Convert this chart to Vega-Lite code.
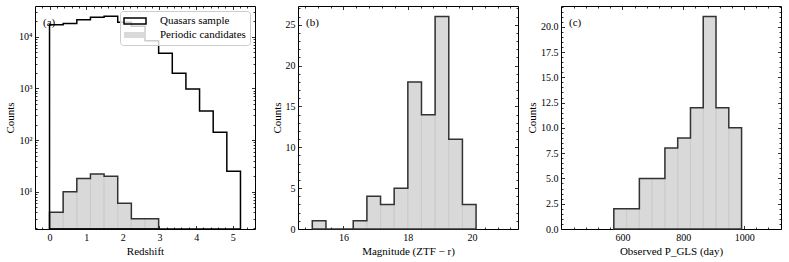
{
  "$schema": "https://vega.github.io/schema/vega-lite/v6.json",
  "background": "white",
  "padding": {"left": 4, "top": 5, "right": 0, "bottom": 0},
  "bounds": "flush",
  "spacing": 43,
  "resolve": {"scale": {"fill": "independent", "stroke": "independent"}, "legend": {"fill": "independent", "stroke": "independent"}},
  "datasets": {
    "redshift": [
      {"start": 0, "end": 0.3721, "quasars": 17100, "candidates": 4},
      {"start": 0.3721, "end": 0.7443, "quasars": 18100, "candidates": 10},
      {"start": 0.7443, "end": 1.1164, "quasars": 21300, "candidates": 18},
      {"start": 1.1164, "end": 1.4886, "quasars": 23700, "candidates": 22},
      {"start": 1.4886, "end": 1.8607, "quasars": 24800, "candidates": 20},
      {"start": 1.8607, "end": 2.2329, "quasars": 19000, "candidates": 6},
      {"start": 2.2329, "end": 2.605, "quasars": 16000, "candidates": 3},
      {"start": 2.605, "end": 2.9771, "quasars": 8400, "candidates": 3},
      {"start": 2.9771, "end": 3.3493, "quasars": 4770, "candidates": 0},
      {"start": 3.3493, "end": 3.7214, "quasars": 1960, "candidates": 0},
      {"start": 3.7214, "end": 4.0936, "quasars": 970, "candidates": 0},
      {"start": 4.0936, "end": 4.4657, "quasars": 364, "candidates": 0},
      {"start": 4.4657, "end": 4.8379, "quasars": 141, "candidates": 0},
      {"start": 4.8379, "end": 5.21, "quasars": 25, "candidates": 0}
    ],
    "magnitude": [
      {"start": 15.03, "end": 15.455, "count": 1},
      {"start": 15.455, "end": 15.88, "count": 0},
      {"start": 15.88, "end": 16.305, "count": 0},
      {"start": 16.305, "end": 16.73, "count": 1},
      {"start": 16.73, "end": 17.155, "count": 4},
      {"start": 17.155, "end": 17.58, "count": 3},
      {"start": 17.58, "end": 18.005, "count": 5},
      {"start": 18.005, "end": 18.43, "count": 18},
      {"start": 18.43, "end": 18.855, "count": 14},
      {"start": 18.855, "end": 19.28, "count": 26},
      {"start": 19.28, "end": 19.705, "count": 11},
      {"start": 19.705, "end": 20.13, "count": 3}
    ],
    "period": [
      {"start": 571.8, "end": 613.8, "count": 2},
      {"start": 613.8, "end": 655.8, "count": 2},
      {"start": 655.8, "end": 697.7, "count": 5},
      {"start": 697.7, "end": 739.7, "count": 5},
      {"start": 739.7, "end": 781.7, "count": 8},
      {"start": 781.7, "end": 823.7, "count": 9},
      {"start": 823.7, "end": 865.7, "count": 12},
      {"start": 865.7, "end": 907.6, "count": 21},
      {"start": 907.6, "end": 949.6, "count": 12},
      {"start": 949.6, "end": 991.6, "count": 10}
    ]
  },
  "hconcat": [
    {
      "width": 220,
      "height": 223,
      "title": {"text": "(a)", "anchor": "start", "frame": "group", "offset": -12, "dx": 8, "dy": 10, "baseline": "top"},
      "data": {"name": "redshift"},
      "resolve": {"axis": {"x": "independent", "y": "independent"}},
      "layer": [
        {
          "transform": [{"filter": "datum.candidates > 0"}],
          "mark": {"type": "bar", "orient": "vertical"},
          "encoding": {
            "x": {"field": "start", "type": "quantitative", "scale": {"domain": [-0.26, 5.47], "nice": false, "zero": false},
              "axis": {"orient": "bottom", "values": [0, 1, 2, 3, 4, 5], "title": "Redshift", "tickSize": 3.5, "offset": -3.5}},
            "x2": {"field": "end"},
            "y": {"field": "candidates", "type": "quantitative", "scale": {"type": "log", "domain": [1.9, 39300], "nice": false},
              "axis": {"orient": "left", "values": [10, 100, 1000, 10000], "labelExpr": "datum.value == 10 ? '10¹' : datum.value == 100 ? '10²' : datum.value == 1000 ? '10³' : '10⁴'", "title": "Counts", "tickSize": 3.5, "offset": -3.5, "minExtent": 0}},
            "y2": {"datum": 1.9},
            "fill": {"datum": "Periodic candidates", "type": "nominal",
              "scale": {"domain": ["Quasars sample", "Periodic candidates"], "range": ["transparent", "#d9d9d9"]},
              "legend": {"title": null, "symbolType": "M-2.2,-0.6H2.2V0.6H-2.2Z"}}
          }
        },
        {
          "transform": [{"filter": "datum.candidates > 0"}],
          "mark": {"type": "bar", "orient": "vertical", "fillOpacity": 0, "stroke": "#c6c6c6", "strokeWidth": 0.6},
          "encoding": {
            "x": {"field": "start", "type": "quantitative", "scale": {"domain": [-0.26, 5.47], "nice": false, "zero": false},
              "axis": {"orient": "top", "values": [-0.2, 0.2, 0.4, 0.6, 0.8, 1.2, 1.4, 1.6, 1.8, 2.2, 2.4, 2.6, 2.8, 3.2, 3.4, 3.6, 3.8, 4.2, 4.4, 4.6, 4.8, 5.2, 5.4], "labels": false, "title": null, "tickSize": 2, "offset": -2}},
            "x2": {"field": "start"},
            "y": {"field": "candidates", "type": "quantitative", "scale": {"type": "log", "domain": [1.9, 39300], "nice": false},
              "axis": {"orient": "right", "values": [2, 3, 4, 5, 6, 7, 8, 9, 20, 30, 40, 50, 60, 70, 80, 90, 200, 300, 400, 500, 600, 700, 800, 900, 2000, 3000, 4000, 5000, 6000, 7000, 8000, 9000, 20000, 30000], "labels": false, "title": null, "tickSize": 2, "offset": -2, "minExtent": 0}},
            "y2": {"datum": 1.9}
          }
        },
        {
          "transform": [{"filter": "datum.candidates > 0"}, {"fold": ["start", "end"], "as": ["edge", "pos"]}],
          "mark": {"type": "area", "fill": "transparent", "stroke": "#333333", "strokeWidth": 1.5, "strokeJoin": "miter"},
          "encoding": {
            "x": {"field": "pos", "type": "quantitative", "scale": {"domain": [-0.26, 5.47], "nice": false, "zero": false},
              "axis": {"orient": "top", "values": [0, 1, 2, 3, 4, 5], "labels": false, "title": null, "tickSize": 3.5, "offset": -3.5}},
            "y": {"field": "candidates", "type": "quantitative", "stack": null, "scale": {"type": "log", "domain": [1.9, 39300], "nice": false},
              "axis": {"orient": "right", "values": [10, 100, 1000, 10000], "labels": false, "title": null, "tickSize": 3.5, "offset": -3.5, "minExtent": 0}}
          }
        },
        {
          "transform": [{"fold": ["start", "end"], "as": ["edge", "pos"]}],
          "mark": {"type": "area", "fill": "transparent", "strokeWidth": 1.5, "strokeJoin": "miter"},
          "encoding": {
            "x": {"field": "pos", "type": "quantitative", "scale": {"domain": [-0.26, 5.47], "nice": false, "zero": false},
              "axis": {"orient": "bottom", "values": [-0.2, 0.2, 0.4, 0.6, 0.8, 1.2, 1.4, 1.6, 1.8, 2.2, 2.4, 2.6, 2.8, 3.2, 3.4, 3.6, 3.8, 4.2, 4.4, 4.6, 4.8, 5.2, 5.4], "labels": false, "title": null, "tickSize": 2, "offset": -2}},
            "y": {"field": "quasars", "type": "quantitative", "stack": null, "scale": {"type": "log", "domain": [1.9, 39300], "nice": false},
              "axis": {"orient": "left", "values": [2, 3, 4, 5, 6, 7, 8, 9, 20, 30, 40, 50, 60, 70, 80, 90, 200, 300, 400, 500, 600, 700, 800, 900, 2000, 3000, 4000, 5000, 6000, 7000, 8000, 9000, 20000, 30000], "labels": false, "title": null, "tickSize": 2, "offset": -2, "minExtent": 0}},
            "stroke": {"datum": "Quasars sample", "type": "nominal",
              "scale": {"domain": ["Quasars sample", "Periodic candidates"], "range": ["black", "transparent"]},
              "legend": {"title": null, "symbolType": "M-2.2,-0.6H2.2V0.6H-2.2Z"}}
          }
        }
      ]
    },
    {
      "width": 220,
      "height": 223,
      "title": {"text": "(b)", "anchor": "start", "frame": "group", "offset": -12, "dx": 8, "dy": 10, "baseline": "top"},
      "data": {"name": "magnitude"},
      "resolve": {"axis": {"x": "independent", "y": "independent"}},
      "layer": [
        {
          "transform": [{"filter": "datum.count > 0"}],
          "mark": {"type": "bar", "orient": "vertical", "fill": "#d9d9d9"},
          "encoding": {
            "x": {"field": "start", "type": "quantitative", "scale": {"domain": [14.74, 21.28], "nice": false, "zero": false},
              "axis": {"orient": "bottom", "values": [16, 18, 20], "title": "Magnitude (ZTF − r)", "tickSize": 3.5, "offset": -3.5}},
            "x2": {"field": "end"},
            "y": {"field": "count", "type": "quantitative", "scale": {"domain": [0, 27.3], "nice": false, "zero": false},
              "axis": {"orient": "left", "values": [0, 5, 10, 15, 20, 25], "title": "Counts", "tickSize": 3.5, "offset": -3.5, "minExtent": 0}}
          }
        },
        {
          "transform": [{"filter": "datum.count > 0"}],
          "mark": {"type": "bar", "orient": "vertical", "fillOpacity": 0, "stroke": "#c6c6c6", "strokeWidth": 0.6},
          "encoding": {
            "x": {"field": "start", "type": "quantitative", "scale": {"domain": [14.74, 21.28], "nice": false, "zero": false},
              "axis": {"orient": "top", "values": [14.8, 15.2, 15.6, 16.4, 16.8, 17.2, 17.6, 18.4, 18.8, 19.2, 19.6, 20.4, 20.8, 21.2], "labels": false, "title": null, "tickSize": 2, "offset": -2}},
            "x2": {"field": "start"},
            "y": {"field": "count", "type": "quantitative", "scale": {"domain": [0, 27.3], "nice": false, "zero": false},
              "axis": {"orient": "right", "values": [1, 2, 3, 4, 6, 7, 8, 9, 11, 12, 13, 14, 16, 17, 18, 19, 21, 22, 23, 24, 26, 27], "labels": false, "title": null, "tickSize": 2, "offset": -2, "minExtent": 0}}
          }
        },
        {
          "transform": [{"fold": ["start", "end"], "as": ["edge", "pos"]}],
          "mark": {"type": "area", "fill": "transparent", "stroke": "#333333", "strokeWidth": 1.5, "strokeJoin": "miter"},
          "encoding": {
            "x": {"field": "pos", "type": "quantitative", "scale": {"domain": [14.74, 21.28], "nice": false, "zero": false},
              "axis": {"orient": "top", "values": [16, 18, 20], "labels": false, "title": null, "tickSize": 3.5, "offset": -3.5}},
            "y": {"field": "count", "type": "quantitative", "stack": null, "scale": {"domain": [0, 27.3], "nice": false, "zero": false},
              "axis": {"orient": "right", "values": [0, 5, 10, 15, 20, 25], "labels": false, "title": null, "tickSize": 3.5, "offset": -3.5, "minExtent": 0}}
          }
        },
        {
          "mark": {"type": "point", "opacity": 0},
          "encoding": {
            "x": {"field": "start", "type": "quantitative", "scale": {"domain": [14.74, 21.28], "nice": false, "zero": false},
              "axis": {"orient": "bottom", "values": [14.8, 15.2, 15.6, 16.4, 16.8, 17.2, 17.6, 18.4, 18.8, 19.2, 19.6, 20.4, 20.8, 21.2], "labels": false, "title": null, "tickSize": 2, "offset": -2}},
            "y": {"field": "count", "type": "quantitative", "scale": {"domain": [0, 27.3], "nice": false, "zero": false},
              "axis": {"orient": "left", "values": [1, 2, 3, 4, 6, 7, 8, 9, 11, 12, 13, 14, 16, 17, 18, 19, 21, 22, 23, 24, 26, 27], "labels": false, "title": null, "tickSize": 2, "offset": -2, "minExtent": 0}}
          }
        }
      ]
    },
    {
      "width": 220,
      "height": 223,
      "title": {"text": "(c)", "anchor": "start", "frame": "group", "offset": -12, "dx": 8, "dy": 10, "baseline": "top"},
      "data": {"name": "period"},
      "resolve": {"axis": {"x": "independent", "y": "independent"}},
      "layer": [
        {
          "mark": {"type": "bar", "orient": "vertical", "fill": "#d9d9d9"},
          "encoding": {
            "x": {"field": "start", "type": "quantitative", "scale": {"domain": [414.7, 1104.7], "nice": false, "zero": false},
              "axis": {"orient": "bottom", "values": [600, 800, 1000], "format": "d", "title": "Observed P_GLS (day)", "tickSize": 3.5, "offset": -3.5}},
            "x2": {"field": "end"},
            "y": {"field": "count", "type": "quantitative", "scale": {"domain": [0, 22.05], "nice": false, "zero": false},
              "axis": {"orient": "left", "values": [0, 2.5, 5, 7.5, 10, 12.5, 15, 17.5, 20], "format": ".1f", "title": "Counts", "tickSize": 3.5, "offset": -3.5, "minExtent": 0}}
          }
        },
        {
          "mark": {"type": "bar", "orient": "vertical", "fillOpacity": 0, "stroke": "#c6c6c6", "strokeWidth": 0.6},
          "encoding": {
            "x": {"field": "start", "type": "quantitative", "scale": {"domain": [414.7, 1104.7], "nice": false, "zero": false},
              "axis": {"orient": "top", "values": [440, 480, 520, 560, 640, 680, 720, 760, 840, 880, 920, 960, 1040, 1080], "labels": false, "title": null, "tickSize": 2, "offset": -2}},
            "x2": {"field": "start"},
            "y": {"field": "count", "type": "quantitative", "scale": {"domain": [0, 22.05], "nice": false, "zero": false},
              "axis": {"orient": "right", "values": [0.5, 1, 1.5, 2, 3, 3.5, 4, 4.5, 5.5, 6, 6.5, 7, 8, 8.5, 9, 9.5, 10.5, 11, 11.5, 12, 13, 13.5, 14, 14.5, 15.5, 16, 16.5, 17, 18, 18.5, 19, 19.5, 20.5, 21, 21.5, 22], "labels": false, "title": null, "tickSize": 2, "offset": -2, "minExtent": 0}}
          }
        },
        {
          "transform": [{"fold": ["start", "end"], "as": ["edge", "pos"]}],
          "mark": {"type": "area", "fill": "transparent", "stroke": "#333333", "strokeWidth": 1.5, "strokeJoin": "miter"},
          "encoding": {
            "x": {"field": "pos", "type": "quantitative", "scale": {"domain": [414.7, 1104.7], "nice": false, "zero": false},
              "axis": {"orient": "top", "values": [600, 800, 1000], "labels": false, "title": null, "tickSize": 3.5, "offset": -3.5}},
            "y": {"field": "count", "type": "quantitative", "stack": null, "scale": {"domain": [0, 22.05], "nice": false, "zero": false},
              "axis": {"orient": "right", "values": [0, 2.5, 5, 7.5, 10, 12.5, 15, 17.5, 20], "labels": false, "title": null, "tickSize": 3.5, "offset": -3.5, "minExtent": 0}}
          }
        },
        {
          "mark": {"type": "point", "opacity": 0},
          "encoding": {
            "x": {"field": "start", "type": "quantitative", "scale": {"domain": [414.7, 1104.7], "nice": false, "zero": false},
              "axis": {"orient": "bottom", "values": [440, 480, 520, 560, 640, 680, 720, 760, 840, 880, 920, 960, 1040, 1080], "labels": false, "title": null, "tickSize": 2, "offset": -2}},
            "y": {"field": "count", "type": "quantitative", "scale": {"domain": [0, 22.05], "nice": false, "zero": false},
              "axis": {"orient": "left", "values": [0.5, 1, 1.5, 2, 3, 3.5, 4, 4.5, 5.5, 6, 6.5, 7, 8, 8.5, 9, 9.5, 10.5, 11, 11.5, 12, 13, 13.5, 14, 14.5, 15.5, 16, 16.5, 17, 18, 18.5, 19, 19.5, 20.5, 21, 21.5, 22], "labels": false, "title": null, "tickSize": 2, "offset": -2, "minExtent": 0}}
          }
        }
      ]
    }
  ],
  "config": {
    "font": "Liberation Serif",
    "view": {"stroke": "black", "strokeWidth": 1},
    "axis": {
      "grid": false, "domain": false, "tickColor": "black", "tickWidth": 0.8, "minExtent": 0,
      "labelFont": "Liberation Serif", "labelFontSize": 10, "labelColor": "black", "labelPadding": 3,
      "titleFont": "Liberation Serif", "titleFontSize": 11, "titleFontWeight": "normal", "titleColor": "black", "titlePadding": 3
    },
    "title": {
      "font": "Liberation Serif", "fontSize": 11, "fontWeight": "normal", "color": "black"
    },
    "legend": {
      "orient": "top-right", "offset": 5, "padding": 4,
      "fillColor": "rgba(255,255,255,0.8)", "strokeColor": "#cccccc", "cornerRadius": 3,
      "labelFont": "Liberation Serif", "labelFontSize": 11, "labelColor": "black",
      "symbolSize": 100, "symbolStrokeWidth": 1.5, "symbolOffset": 5, "labelOffset": 19, "rowPadding": 2
    }
  }
}
